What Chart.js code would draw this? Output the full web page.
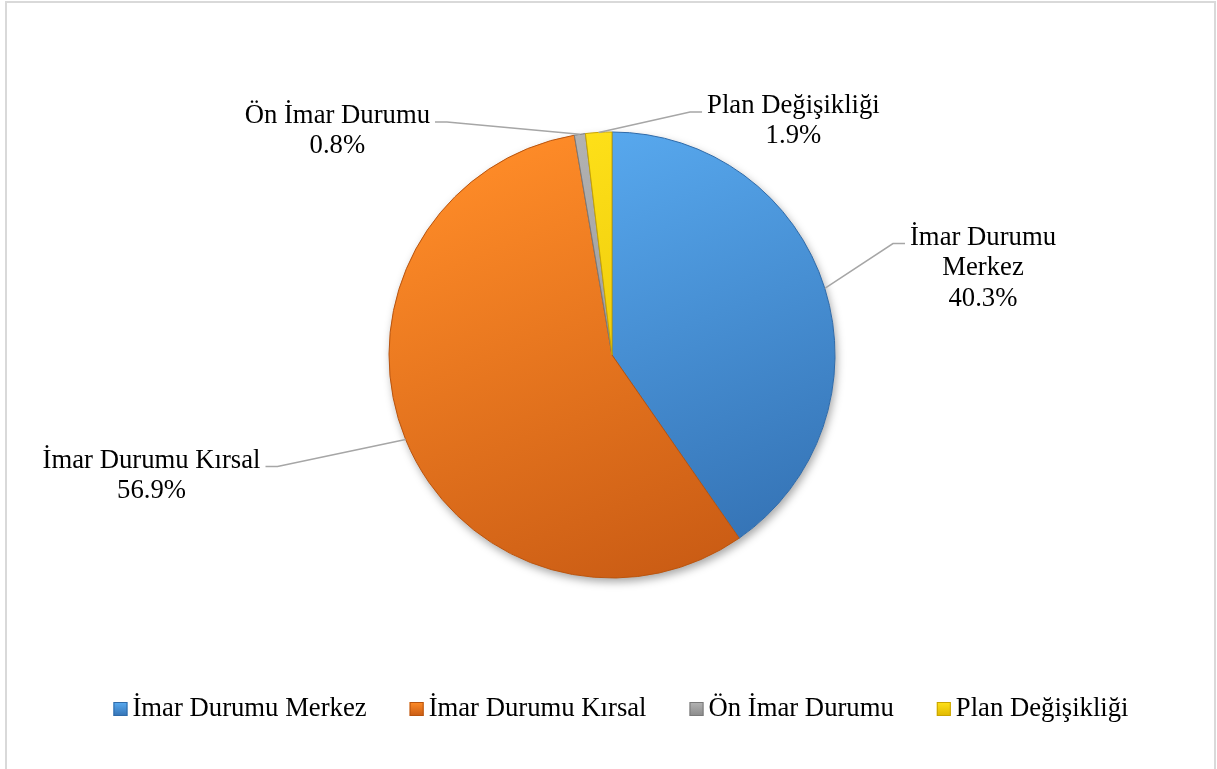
<!DOCTYPE html>
<html>
<head>
<meta charset="utf-8">
<script src="https://cdn.jsdelivr.net/npm/chart.js@4"></script>
<style>
    html, body { margin: 0; padding: 0; background: #fff; overflow: hidden; }
    #frame { position: absolute; left: 5px; top: 1px; width: 1211px; height: 800px;
             border: 2px solid #d9d9d9; box-sizing: border-box; }
    #wrap  { position: absolute; left: 0; top: 0; width: 1217px; height: 769px; }
</style>
</head>
<body>
<div id="frame"></div>
<div id="wrap"><canvas id="chart" width="1217" height="769"></canvas></div>
<script>
// ─── Data ────────────────────────────────────────────────────────────────────
const categories = ['İmar Durumu Merkez', 'İmar Durumu Kırsal', 'Ön İmar Durumu', 'Plan Değişikliği'];
const shares     = [40.3, 56.9, 0.8, 1.9];   // percent

// ─── Styling ─────────────────────────────────────────────────────────────────
const FONT        = "'Liberation Serif', 'Times New Roman', serif";
const FONT_SIZE   = 26.7;
const fillTop     = ['#5aacf2', '#ff8c28', '#b4b4b4', '#ffe21a'];
const fillBottom  = ['#3472b4', '#c95b14', '#8a8a8a', '#e0b800'];
const edgeColor   = ['#2f6aa8', '#b8540f', '#7a7a7a', '#c9a400'];

// label placement: elbow point of the leader line (in pie radii from centre),
// which side the text sits on, and the width at which a label wraps
const labelElbow  = [[1.26, -0.50], [-1.50, 0.50], [-0.74, -1.045], [0.35, -1.09]];
const labelSide   = [1, -1, -1, 1];
const labelWrap   = [170, 400, 400, 400];
const PIE_RADIUS  = 223;

// legend row (drawn by our own plugin so the box/text spacing matches)
const LEGEND_CX   = 621;
const LEGEND_Y    = 709;
const LEGEND_BOX  = 14;
const LEGEND_GAP  = 5;
const LEGEND_ITEM_GAP = 43;

// gradient fill for each slice, built from the chart area centre
function sliceFill(c) {
    const i = c.dataIndex;
    const area = c.chart.chartArea;
    if (!area || i === undefined) return fillTop[i || 0];
    const cx = (area.left + area.right) / 2;
    const cy = (area.top + area.bottom) / 2;
    const g = c.chart.ctx.createLinearGradient(cx - PIE_RADIUS * 0.4, cy - PIE_RADIUS,
                                               cx + PIE_RADIUS * 0.4, cy + PIE_RADIUS);
    g.addColorStop(0, fillTop[i]);
    g.addColorStop(1, fillBottom[i]);
    return g;
}

function wrapText(ctx, text, maxW) {
    const words = text.split(' ');
    const lines = [];
    let cur = '';
    words.forEach(w => {
        const test = cur ? cur + ' ' + w : w;
        if (cur && ctx.measureText(test).width > maxW) {
            lines.push(cur);
            cur = w;
        } else {
            cur = test;
        }
    });
    if (cur) lines.push(cur);
    return lines;
}

// soft shadow under the whole pie
const pieShadow = {
    id: 'pieShadow',
    beforeDatasetsDraw(chart) {
        const arc = chart.getDatasetMeta(0).data[0];
        if (!arc) return;
        const ctx = chart.ctx;
        ctx.save();
        ctx.shadowColor   = 'rgba(0,0,0,0.35)';
        ctx.shadowBlur    = 9;
        ctx.shadowOffsetX = 2;
        ctx.shadowOffsetY = 4;
        ctx.fillStyle = '#ffffff';
        ctx.beginPath();
        ctx.arc(arc.x, arc.y, arc.outerRadius, 0, Math.PI * 2);
        ctx.fill();
        ctx.restore();
    }
};

// outside labels with leader lines
const outsideLabels = {
    id: 'outsideLabels',
    afterDatasetsDraw(chart) {
        const ctx  = chart.ctx;
        const meta = chart.getDatasetMeta(0);
        ctx.save();
        ctx.font = FONT_SIZE + 'px ' + FONT;
        meta.data.forEach((arc, i) => {
            const mid = (arc.startAngle + arc.endAngle) / 2;
            const r   = arc.outerRadius;
            const sx  = arc.x + Math.cos(mid) * r;
            const sy  = arc.y + Math.sin(mid) * r;
            const ex  = arc.x + labelElbow[i][0] * r;
            const ey  = arc.y + labelElbow[i][1] * r;
            const side = labelSide[i];
            const tx  = ex + side * 12;

            ctx.strokeStyle = '#a6a6a6';
            ctx.lineWidth = 1.5;
            ctx.beginPath();
            ctx.moveTo(sx, sy);
            ctx.lineTo(ex, ey);
            ctx.lineTo(tx, ey);
            ctx.stroke();

            const lines = wrapText(ctx, categories[i], labelWrap[i]);
            lines.push(shares[i].toFixed(1) + '%');
            const blockW = Math.max(...lines.map(l => ctx.measureText(l).width));
            const centerX = side > 0 ? tx + 5 + blockW / 2 : tx - 5 - blockW / 2;

            ctx.fillStyle = '#000';
            ctx.textAlign = 'center';
            ctx.textBaseline = 'middle';
            lines.forEach((l, k) => {
                ctx.fillText(l, centerX, ey - 6 + k * 30.5);
            });
        });
        ctx.restore();
    }
};

// legend row at the bottom
const bottomLegend = {
    id: 'bottomLegend',
    afterDraw(chart) {
        const ctx = chart.ctx;
        ctx.save();
        ctx.font = FONT_SIZE + 'px ' + FONT;
        const widths = categories.map(t => ctx.measureText(t).width);
        const total  = widths.reduce((a, w) => a + LEGEND_BOX + LEGEND_GAP + w, 0)
                     + LEGEND_ITEM_GAP * (categories.length - 1);
        let x = LEGEND_CX - total / 2;

        ctx.textAlign = 'left';
        ctx.textBaseline = 'middle';
        categories.forEach((t, i) => {
            const by = LEGEND_Y - LEGEND_BOX / 2;
            const g  = ctx.createLinearGradient(0, by, 0, by + LEGEND_BOX);
            g.addColorStop(0, fillTop[i]);
            g.addColorStop(1, fillBottom[i]);
            ctx.fillStyle = g;
            ctx.fillRect(x, by, LEGEND_BOX, LEGEND_BOX);
            ctx.strokeStyle = edgeColor[i];
            ctx.lineWidth = 1;
            ctx.strokeRect(x + 0.5, by + 0.5, LEGEND_BOX - 1, LEGEND_BOX - 1);

            ctx.fillStyle = '#000';
            ctx.fillText(t, x + LEGEND_BOX + LEGEND_GAP, LEGEND_Y);
            x += LEGEND_BOX + LEGEND_GAP + widths[i] + LEGEND_ITEM_GAP;
        });
        ctx.restore();
    }
};

new Chart(document.getElementById('chart'), {
    type: 'pie',
    data: {
        labels: categories,
        datasets: [{
            data: shares,
            backgroundColor: sliceFill,
            borderColor: edgeColor,
            borderWidth: 1
        }]
    },
    options: {
        responsive: false,
        animation: false,
        radius: PIE_RADIUS,
        layout: { padding: { top: 44, bottom: 103, left: 7, right: 0 } },
        plugins: {
            tooltip: { enabled: false },
            legend:  { display: false }
        }
    },
    plugins: [pieShadow, outsideLabels, bottomLegend]
});
</script>
</body>
</html>
